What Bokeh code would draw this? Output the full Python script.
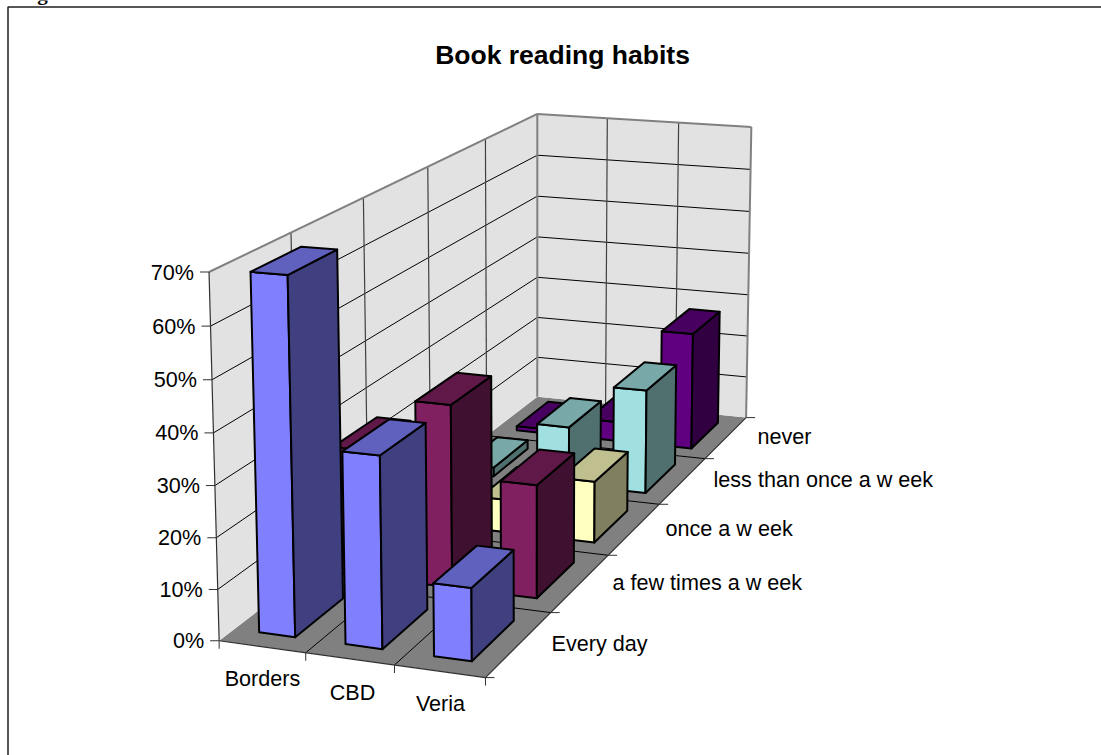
import numpy as np
from bokeh.plotting import figure
from bokeh.models import Range1d, ColumnDataSource
from bokeh.core.properties import value
from bokeh.embed import file_html
from bokeh.resources import INLINE

# Chart data: percentage of readers, one row per reading frequency
stores = ["Borders", "CBD", "Veria"]
frequencies = ["Every day", "a few times a w eek", "once a w eek", "less than once a w eek", "never"]
every_day = [69, 37, 14]
few_times = [26, 37, 22.8]
once_week = [1, 7, 13]
less_once = [2, 13, 23]
never = [1, 4.5, 27]
series_values = [every_day, few_times, once_week, less_once, never]
series_colors = [(128, 128, 255), (128, 32, 96), (255, 255, 192), (160, 224, 224), (96, 0, 128)]
percent_ticks = [0, 10, 20, 30, 40, 50, 60, 70]

# Camera calibration pairs: (store axis, frequency axis, percent) -> page pixels
calibration = [
    (0, 0, 0, 219, 640), (1, 0, 0, 305, 652), (2, 0, 0, 393.5, 665.7), (3, 0, 0, 485, 677),
    (3, 1, 0, 550, 612), (3, 2, 0, 606.7, 555), (3, 3, 0, 660, 503), (3, 4, 0, 705, 458),
    (3, 5, 0, 745, 417), (0, 5, 0, 536.5, 397), (0, 0, 70, 208, 272), (0, 5, 70, 536, 113),
    (1, 5, 70, 607.7, 118), (2, 5, 70, 679, 121.7), (3, 5, 70, 750, 127),
    (0, 0, 35, 214.5, 458),
]


def solve_camera(pairs):
    rows = []
    for x, y, z, u, v in pairs:
        X = [x / 3, y / 5, z / 70, 1]
        u, v = u / 1000, v / 1000
        rows.append(X + [0, 0, 0, 0] + [-u * c for c in X])
        rows.append([0, 0, 0, 0] + X + [-v * c for c in X])
    return np.linalg.svd(np.array(rows))[2][-1].reshape(3, 4)


camera = solve_camera(calibration)


def project(x, y, z):
    h = camera @ np.array([x / 3, y / 5, z / 70, 1.0])
    return float(h[0] / h[2] * 1000), float(h[1] / h[2] * 1000)


def shade(rgb, factor):
    return "#%02x%02x%02x" % tuple(int(round(c * factor)) for c in rgb)


def quad(points):
    pts = [project(*pt) for pt in points]
    return [pt[0] for pt in pts], [pt[1] for pt in pts]


def add_lines(p, segments, color, width):
    xs, ys = [], []
    for a, b in segments:
        sx, sy = quad([a, b])
        xs.append(sx)
        ys.append(sy)
    p.multi_line(xs, ys, line_color=color, line_width=width)


WIDTH, HEIGHT = 1101, 755
p = figure(width=WIDTH, height=HEIGHT, x_range=Range1d(0, WIDTH), y_range=Range1d(HEIGHT, 0),
           output_backend="svg", toolbar_location=None, min_border=0, outline_line_color=None)
p.axis.visible = False
p.grid.visible = False
p.background_fill_color = "white"

NS, NF, TOP = len(stores), len(frequencies), percent_ticks[-1]
SANS = value("Liberation Sans")
LABEL_SIZE = "21.6px"

# Floor and the two walls
fx, fy = quad([(0, 0, 0), (NS, 0, 0), (NS, NF, 0), (0, NF, 0)])
p.patch(fx, fy, fill_color="#808080", line_color=None)
for wall in ([(0, 0, 0), (0, NF, 0), (0, NF, TOP), (0, 0, TOP)],
             [(0, NF, 0), (NS, NF, 0), (NS, NF, TOP), (0, NF, TOP)]):
    wx, wy = quad(wall)
    p.patch(wx, wy, fill_color="#e2e2e2", line_color=None)

# Gridlines on the walls and floor
horizontal = []
for t in percent_ticks[1:-1]:
    horizontal.append(((0, 0, t), (0, NF, t)))
    horizontal.append(((0, NF, t), (NS, NF, t)))
add_lines(p, horizontal, "black", 1)
vertical = [((0, j, 0), (0, j, TOP)) for j in range(1, NF)] + [((i, NF, 0), (i, NF, TOP)) for i in range(1, NS)]
add_lines(p, vertical, "#404040", 1.2)
floor_lines = [((0, j, 0), (NS, j, 0)) for j in range(1, NF)] + [((i, 0, 0), (i, NF, 0)) for i in range(1, NS)]
add_lines(p, floor_lines, "black", 1)

# Wall outlines
add_lines(p, [((0, 0, TOP), (0, NF, TOP)), ((0, NF, TOP), (NS, NF, TOP)), ((NS, NF, TOP), (NS, NF, 0)),
              ((0, NF, 0), (0, NF, TOP))], "#808080", 2)
add_lines(p, [((0, 0, 0), (0, 0, TOP)), ((0, 0, 0), (NS, 0, 0)), ((NS, 0, 0), (NS, NF, 0))], "#303030", 1.2)

# Columns, painted from the back row forward and left to right
GAP_X, GAP_Y = 0.29, 0.185
xs, ys, fills = [], [], []
for j in reversed(range(NF)):
    rgb = series_colors[j]
    for i in range(NS):
        v = series_values[j][i]
        x0, x1, y0, y1 = i + GAP_X, i + 1 - GAP_X, j + GAP_Y, j + 1 - GAP_Y
        faces = [
            ([(x0, y0, 0), (x1, y0, 0), (x1, y0, v), (x0, y0, v)], 1.0),
            ([(x1, y0, 0), (x1, y1, 0), (x1, y1, v), (x1, y0, v)], 0.5),
            ([(x0, y0, v), (x1, y0, v), (x1, y1, v), (x0, y1, v)], 0.75),
        ]
        for face, factor in faces:
            qx, qy = quad(face)
            xs.append(qx)
            ys.append(qy)
            fills.append(shade(rgb, factor))
p.patches("xs", "ys", source=ColumnDataSource(dict(xs=xs, ys=ys, fills=fills)),
          fill_color="fills", line_color="black", line_width=2, line_join="round")


# Tick marks and texts, offset in page pixels from projected anchors
def offset_segments(anchors, dx, dy):
    mx, my = [], []
    for a in anchors:
        ax, ay = project(*a)
        mx.append([ax, ax + dx])
        my.append([ay, ay + dy])
    p.multi_line(mx, my, line_color="#303030", line_width=1)


offset_segments([(0, 0, t) for t in percent_ticks], -9, 0)
offset_segments([(i, 0, 0) for i in range(NS + 1)], 0, 8)
offset_segments([(NS, j, 0) for j in range(NF + 1)], 9, 0)

anchors = [project(0, 0, t) for t in percent_ticks]
p.text([a[0] - 15 for a in anchors], [a[1] for a in anchors], text=[f"{t}%" for t in percent_ticks],
       text_font=SANS, text_font_size=LABEL_SIZE, text_align="right", text_baseline="middle", text_color="black")

store_x, store_y = [262, 352, 440], [678, 692, 703]
p.text(store_x, store_y, text=stores, text_font=SANS, text_font_size=LABEL_SIZE,
       text_align="center", text_baseline="middle", text_color="black")

freq_x, freq_y = [551, 612, 665, 713, 757], [643, 582, 528, 479, 436]
p.text(freq_x, freq_y, text=frequencies, text_font=SANS, text_font_size=LABEL_SIZE,
       text_align="left", text_baseline="middle", text_color="black")

p.text([562], [54], text=["Book reading habits"], text_font=SANS, text_font_size="26.5px",
       text_font_style="bold", text_align="center", text_baseline="middle", text_color="black")

# Page heading cut off by the top edge, and the chart frame
p.text([18], [-7.5], text=["Figure 5"], text_font=value("Liberation Serif"), text_font_size="21px",
       text_font_style="bold", text_align="left", text_baseline="alphabetic", text_color="black")
p.multi_line([[7.5, 7.5, WIDTH]], [[HEIGHT, 6.5, 6.5]], line_color="#202020", line_width=1.5)

open("out.html", "w").write(file_html(p, INLINE))
